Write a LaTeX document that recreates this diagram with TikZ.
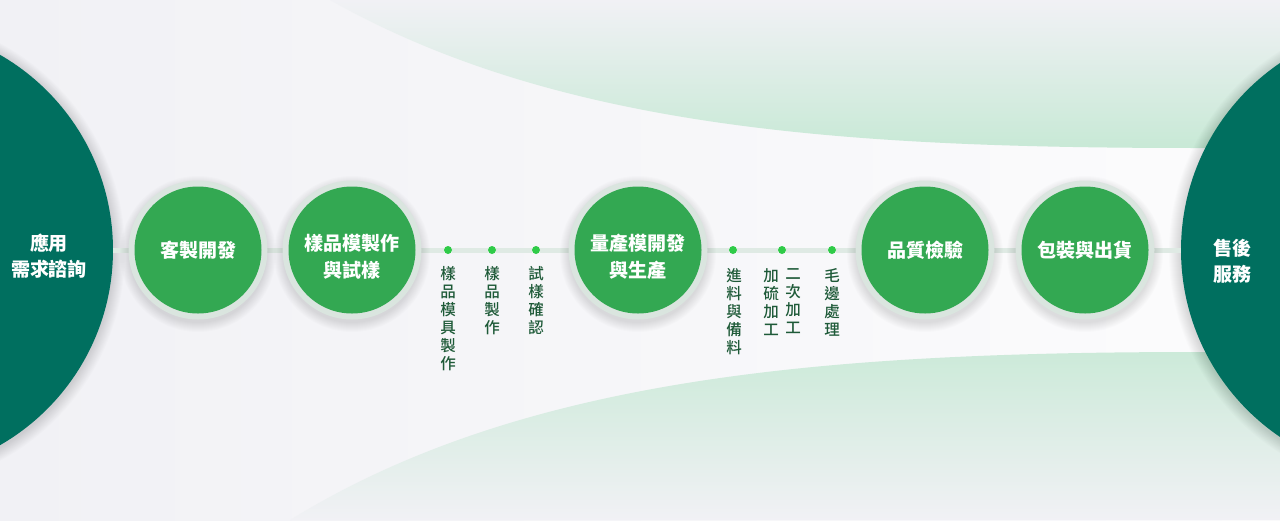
\documentclass[tikz,border=0pt]{standalone}
\usepackage{fontspec}
\setmainfont{Noto Sans CJK TC}
\newfontfamily\cjkmed{Noto Sans CJK TC Medium}
\definecolor{bgL}{HTML}{F1F1F5}
\definecolor{bgR}{HTML}{FCFCFD}
\definecolor{tealD}{HTML}{006F5F}
\definecolor{greenC}{HTML}{33A852}
\definecolor{haloC}{HTML}{DAE5DF}
\definecolor{lineC}{HTML}{DFEAE4}
\definecolor{dotC}{HTML}{2FCB48}
\definecolor{subT}{HTML}{1E5A38}
\definecolor{mintB}{HTML}{C8E9D6}
\definecolor{mintM}{HTML}{E2EDEA}
\definecolor{mintT}{HTML}{CCEAD9}
\pgfdeclarelayer{bglayer}
\pgfdeclarelayer{connlayer}
\pgfsetlayers{bglayer,connlayer,main}
\begin{document}
\begin{tikzpicture}[x=1pt,y=-1pt,
  bigc/.style={circle,fill=tealD,minimum size=450pt,inner sep=0pt},
  gc/.style={circle,fill=greenC,minimum size=127pt,inner sep=0pt},
  maint/.style={text=white,align=center,font=\fontsize{19}{26.5}\selectfont\bfseries,inner sep=0pt},
  subt/.style={text=subT,align=center,anchor=north,font=\fontsize{15.5}{18}\selectfont\cjkmed,inner sep=0pt},
  dotn/.style={circle,fill=dotC,minimum size=8pt,inner sep=0pt},
  conn/.style={draw=lineC,line width=5pt}]
\useasboundingbox (0,0) rectangle (1280,520);
\clip (0,0) rectangle (1280,520);
\begin{pgfonlayer}{bglayer}
\shade[left color=bgL,right color=bgR] (0,0) rectangle (1280,520);
\shade[top color=bgL,middle color=mintM,bottom color=mintB]
  (330,0) .. controls (560,130) and (850,148) .. (1200,148) -- (1280,148) -- (1280,0) -- cycle;
\shade[top color=mintT,middle color=mintM,bottom color=bgL]
  (290,520) .. controls (520,378) and (820,352) .. (1200,352) -- (1280,352) -- (1280,520) -- cycle;
\foreach \k in {1,...,12}{
  \fill[black,opacity=0.012] (-112,252) circle ({225+\k});
  \fill[black,opacity=0.012] (1407,252) circle ({226+\k});
}
\end{pgfonlayer}
% green circles: shadow and halo
\foreach \cx in {198,352,638,925,1085}{
  \foreach \k in {0,...,9}{
    \fill[black,opacity=0.012] (\cx,254) circle ({69+\k});
  }
  \fill[haloC] (\cx,250) circle (69.5);
}
\node[bigc] (L) at (-112,250) {};
\node[bigc,minimum size=452pt] (R) at (1407,250) {};
\node[gc] (c1) at (198,250) {};
\node[gc] (c2) at (352,250) {};
\node[gc] (c3) at (638,250) {};
\node[gc] (c4) at (925,250) {};
\node[gc] (c5) at (1085,250) {};
\node[dotn] (d1) at (448,250) {};
\node[dotn] (d2) at (492,250) {};
\node[dotn] (d3) at (536,250) {};
\node[dotn] (d4) at (733,250) {};
\node[dotn] (d5) at (782,250) {};
\node[dotn] (d6) at (832,250) {};
\begin{pgfonlayer}{connlayer}
\path[conn] (L.east) -- (c1.west);
\path[conn] (c1.east) -- (c2.west);
\path[conn] (c2.east) -- (d1.west);
\path[conn] (d1.east) -- (d2.west);
\path[conn] (d2.east) -- (d3.west);
\path[conn] (d3.east) -- (c3.west);
\path[conn] (c3.east) -- (d4.west);
\path[conn] (d4.east) -- (d5.west);
\path[conn] (d5.east) -- (d6.west);
\path[conn] (d6.east) -- (c4.west);
\path[conn] (c4.east) -- (c5.west);
\path[conn] (c5.east) -- (R.west);
\end{pgfonlayer}
% texts
\node[maint] (tL) at (49,256) {應用\\需求諮詢};
\node[maint] (tR) at (1232,261) {售後\\服務};
\node[maint] (t1) at (c1) {客製開發};
\node[maint] (t2) at (352,257) {樣品模製作\\與試樣};
\node[maint] (t3) at (638,257) {量產模開發\\與生產};
\node[maint] (t4) at (c4) {品質檢驗};
\node[maint] (t5) at (c5) {包裝與出貨};
\node[subt] (s1) at (448,266) {樣\\品\\模\\具\\製\\作};
\node[subt] (s2) at (492,266) {樣\\品\\製\\作};
\node[subt] (s3) at (536,266) {試\\樣\\確\\認};
\node[subt] (s4) at (734,268) {進\\料\\與\\備\\料};
\node[subt] (s5) at (771,268) {加\\硫\\加\\工};
\node[subt] (s6) at (793,268) {二\\次\\加\\工};
\node[subt] (s7) at (832,268) {毛\\邊\\處\\理};
\end{tikzpicture}
\end{document}
